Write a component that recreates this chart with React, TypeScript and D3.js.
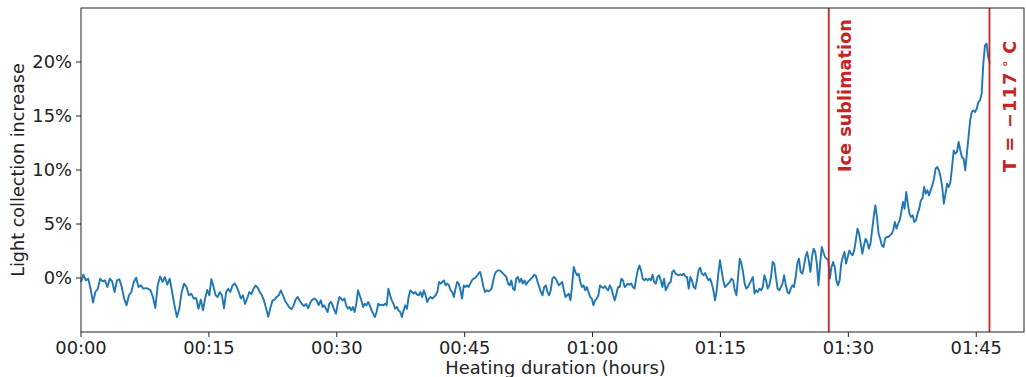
import React, { useEffect, useRef } from 'react'
import * as d3 from 'd3'

const WIDTH = 1026
const HEIGHT = 377
const MARGIN = { top: 8, right: 2, bottom: 45, left: 81 }

// heating time (minutes) covered by each sampled stretch of the trace
const segmentBounds = [0, 14.06, 28.13, 42.19, 56.25, 70.31, 84.4, 98.5, 106.6]

// light collection increase (%), stretch by stretch
const trace00 = [-0.37, 0.31, -0.22, -0.06, -0.99, -2.28, -1.3, -0.99, -0.06, -0.31, -0.22, -0.83, -0.06, -0.31, -1.3, -0.22, -0.12, -0.83, -1.91, -2.53, -1.6, -1.3, -0.37, 0.03, -0.83, -0.68, -0.99, -0.93, -0.99, -1.14, -1.76, -2.78, -0.68, 0.15, -0.37, 0.09, -0.62, -0.06, -1.3, -2.53, -3.61, -2.84, -1.3, -0.52, -0.83, -1.6, -1.45, -1.91, -1.85, -2.84]
const trace14 = [-2.0, -3.0, -1.9, -1.1, -1.6, -0.1, -0.8, -1.6, -1.75, -1.3, -1.6, -2.8, -1.3, -1.0, -1.3, -0.7, -0.5, -0.8, -1.3, -1.9, -1.6, -2.4, -1.9, -1.3, -1.5, -1.0, -0.7, -0.9, -1.3, -1.6, -2.1, -2.8, -3.6, -2.8, -2.1, -2.0, -1.75, -1.6, -1.15, -1.6, -2.1, -2.4, -2.7, -2.9, -2.6, -2.0, -1.75, -2.1, -2.4, -2.6, -2.4, -2.8, -2.3, -2.0, -1.9, -2.1, -2.5]
const trace28 = [-2.07, -2.69, -2.53, -2.84, -3.15, -2.38, -2.22, -2.53, -2.99, -3.3, -2.38, -1.76, -1.91, -2.07, -1.91, -2.53, -2.84, -2.69, -2.99, -2.69, -3.15, -2.38, -1.14, -1.6, -2.07, -2.69, -2.38, -2.53, -2.22, -2.53, -2.99, -3.3, -3.61, -3.15, -2.38, -2.53, -2.47, -2.53, -2.38, -2.53, -0.99, -1.6, -2.07, -2.38, -2.84, -2.69, -2.99, -3.15, -3.61, -2.99, -2.53, -2.84, -1.76, -1.14, -1.3, -1.45, -1.3, -1.54, -1.6, -1.3, -1.76, -1.14, -1.6, -2.22, -1.91, -1.76, -1.91, -1.76, -1.6, -1.3, -0.37]
const trace42 = [-0.52, -0.37, -0.22, -0.68, -0.52, -0.68, -1.14, -1.3, -1.76, -0.99, -0.37, -0.52, -1.14, -1.91, -0.68, -0.83, -0.68, -0.83, -0.52, -0.22, -0.06, 0.0, 0.19, 0.4, 0.56, -0.06, -0.83, -1.3, -1.14, -1.23, -1.14, -0.99, -0.22, 0.4, 0.62, 0.71, 0.71, 0.56, 0.4, 0.25, 0.09, -0.52, -0.68, -0.22, -0.99, -1.14, -0.06, 0.09, -0.37, -0.06, -0.52, -0.22, -0.62, -0.37, -0.22, -0.06, 0.09, 0.31, 0.19, -0.37, -0.83, -1.3, -1.6, -0.83, -0.68, -1.3, -1.6, -1.14, -0.06, 0.09, -0.06, -0.37, -0.68]
const trace56 = [-0.52, -0.37, -1.14, -1.76, -1.6, -1.45, -2.07, -0.68, 1.02, 0.56, 0.25, 0.4, -0.37, -0.83, -0.68, -1.14, -0.83, -1.3, -1.76, -1.91, -2.53, -2.07, -1.91, -1.6, -0.68, -0.83, -0.93, -0.74, -0.99, -1.14, -0.68, -0.99, -1.6, -2.07, -1.45, -0.83, -0.83, -0.06, -0.22, -0.83, -0.68, -0.52, -0.62, -0.52, -0.83, -0.99, -0.06, 0.71, 1.17, 0.71, -0.06, -0.22, -0.06, -0.22, -0.06, -0.22, 0.31, -0.37, -0.52, 0.09, 0.25, -0.22, -0.83, -0.06, -1.14, -0.83, -0.52, -0.37, 0.56, 0.71, 0.4, 0.31, 0.25]
const trace70 = [0.34, 0.25, 0.4, 0.15, 0.09, -0.99, 0.09, -0.22, -0.83, -0.99, -0.22, 0.71, 0.96, 0.4, 0.25, 0.46, 0.09, -0.22, -0.06, -0.52, -1.14, -2.07, -1.14, 0.4, 1.64, 0.71, -0.22, -0.83, -0.68, -0.52, -0.37, -0.06, -0.22, -1.14, -1.6, 0.09, 1.79, 1.33, 0.56, -0.52, -0.99, -0.83, -0.52, -0.22, 0.09, -1.45, -1.14, -1.3, -0.99, -1.14, -0.83, 0.25, -0.22, -0.99, -0.68, 0.09, 1.48, 1.33, 0.09, -0.99, -1.14, -0.83, -0.52, 0.25, -0.68, -1.3, -1.45, -0.99, -0.68, -0.83, 0.09, 1.33, 1.79]
const trace84 = [0.56, 0.4, 1.02, 1.94, 2.41, 1.64, 0.56, 1.94, 2.72, 2.41, 1.33, -0.68, 1.33, 2.87, 2.41, 1.94, 1.79, 1.64, -0.06, 1.02, 1.48, 1.02, -0.22, -0.68, -0.22, 1.33, 1.94, 2.41, 1.33, 1.94, 2.56, 2.25, 2.1, 2.56, 3.49, 4.57, 4.1, 3.18, 2.25, 3.02, 3.64, 3.33, 2.72, 3.18, 4.41, 5.65, 6.73, 5.65, 4.1, 3.64, 3.02, 2.87, 3.64, 3.8, 3.8, 3.95, 4.1, 4.41, 5.19, 4.57, 5.03, 5.34, 6.11, 7.04, 6.42, 7.96, 6.88, 5.96, 5.65, 5.8, 5.19, 5.34, 5.96, 6.42]
const trace98 = [7.19, 7.35, 8.43, 7.81, 8.12, 7.65, 8.12, 8.58, 9.2, 10.12, 10.28, 9.97, 9.35, 8.43, 6.88, 7.81, 8.73, 8.43, 8.89, 10.28, 11.82, 11.51, 11.67, 12.59, 11.82, 11.2, 11.05, 9.97, 11.51, 13.06, 14.6, 15.37, 15.52, 15.37, 15.68, 16.3, 16.45, 17.07, 19.85, 21.54, 21.7, 20.46, 19.85]
const traces = [trace00, trace14, trace28, trace42, trace56, trace70, trace84, trace98]

const xTicks = [0, 15, 30, 45, 60, 75, 90, 105]
const yTicks = [0, 5, 10, 15, 20]
const iceSublimationAt = 87.7
const tempMarkAt = 106.55

const RED = '#c82323'
const BLUE = '#1f77b4'
const INK = '#222'
const FONT = 'DejaVu Sans, sans-serif'
const STRETCH = 'scale(1.05,1)'

function fmtTime(m: number) {
  const h = Math.floor(m / 60)
  const mm = m % 60
  return `${String(h).padStart(2, '0')}:${String(mm).padStart(2, '0')}`
}

export default function App() {
  const svgRef = useRef<SVGSVGElement>(null)

  useEffect(() => {
    const points = traces.flatMap((vals, s) => {
      const t0 = segmentBounds[s]
      const t1 = segmentBounds[s + 1]
      const n = s === traces.length - 1 ? vals.length - 1 : vals.length
      return vals.map((v, i) => ({ t: t0 + (i * (t1 - t0)) / n, v }))
    })

    const svg = d3.select(svgRef.current)
    svg.selectAll('*').remove()

    const x = d3.scaleLinear().domain([0, 110.6]).range([MARGIN.left, WIDTH - MARGIN.right])
    const y = d3.scaleLinear().domain([-5, 25]).range([HEIGHT - MARGIN.bottom, MARGIN.top])

    // trace
    const line = d3.line<{ t: number; v: number }>()
      .x((d) => x(d.t))
      .y((d) => y(d.v))
    svg.append('path')
      .datum(points)
      .attr('d', line)
      .attr('fill', 'none')
      .attr('stroke', BLUE)
      .attr('stroke-width', 1.9)
      .attr('stroke-linejoin', 'round')

    // marker lines
    ;[iceSublimationAt, tempMarkAt].forEach((m) => {
      svg.append('line')
        .attr('x1', x(m)).attr('x2', x(m))
        .attr('y1', y(25)).attr('y2', y(-5))
        .attr('stroke', RED)
        .attr('stroke-width', 1.8)
    })

    svg.append('text')
      .attr('transform', `translate(${x(iceSublimationAt) + 22},172) rotate(-90)`)
      .attr('font-family', FONT)
      .attr('font-weight', 'bold')
      .attr('font-size', 17.7)
      .attr('fill', RED)
      .text('Ice sublimation')

    const tLabel = svg.append('text')
      .attr('transform', `translate(${x(tempMarkAt) + 27},172) rotate(-90)`)
      .attr('font-family', FONT)
      .attr('font-weight', 'bold')
      .attr('font-size', 17.7)
      .attr('letter-spacing', 1.2)
      .attr('fill', RED)
    tLabel.append('tspan').text('T = −117')
    tLabel.append('tspan').attr('dx', 4).attr('dy', -7).attr('font-size', 12).text('∘')
    tLabel.append('tspan').attr('dx', 5).attr('dy', 7).text('C')

    // frame
    svg.append('rect')
      .attr('x', MARGIN.left)
      .attr('y', MARGIN.top)
      .attr('width', WIDTH - MARGIN.left - MARGIN.right)
      .attr('height', HEIGHT - MARGIN.top - MARGIN.bottom)
      .attr('fill', 'none')
      .attr('stroke', INK)
      .attr('stroke-width', 1)

    // x ticks
    const xg = svg.append('g')
    xTicks.forEach((m) => {
      const px = x(m)
      xg.append('line')
        .attr('x1', px).attr('x2', px)
        .attr('y1', HEIGHT - MARGIN.bottom).attr('y2', HEIGHT - MARGIN.bottom + 5)
        .attr('stroke', INK)
      xg.append('text')
        .attr('transform', `translate(${px},353.5) ${STRETCH}`)
        .attr('text-anchor', 'middle')
        .attr('font-family', FONT)
        .attr('font-size', 17)
        .attr('fill', INK)
        .text(fmtTime(m))
    })

    // y ticks
    const yg = svg.append('g')
    yTicks.forEach((v) => {
      const py = y(v)
      yg.append('line')
        .attr('x1', MARGIN.left - 5).attr('x2', MARGIN.left)
        .attr('y1', py).attr('y2', py)
        .attr('stroke', INK)
      yg.append('text')
        .attr('transform', `translate(${MARGIN.left - 9},${py + 6}) ${STRETCH}`)
        .attr('text-anchor', 'end')
        .attr('font-family', FONT)
        .attr('font-size', 17)
        .attr('fill', INK)
        .text(`${v}%`)
    })

    // axis titles
    svg.append('text')
      .attr('transform', `translate(${(MARGIN.left + WIDTH - MARGIN.right) / 2 + 3},374) ${STRETCH}`)
      .attr('text-anchor', 'middle')
      .attr('font-family', FONT)
      .attr('font-size', 17)
      .attr('fill', INK)
      .text('Heating duration (hours)')

    svg.append('text')
      .attr('transform', `translate(24,${(MARGIN.top + HEIGHT - MARGIN.bottom) / 2}) rotate(-90)`)
      .attr('text-anchor', 'middle')
      .attr('font-family', FONT)
      .attr('font-size', 17.6)
      .attr('fill', INK)
      .text('Light collection increase')
  }, [])

  return (
    <div style={{ position: 'absolute', left: 0, top: 0, background: '#fff' }}>
      <svg ref={svgRef} width={WIDTH} height={HEIGHT} style={{ display: 'block' }} />
    </div>
  )
}
